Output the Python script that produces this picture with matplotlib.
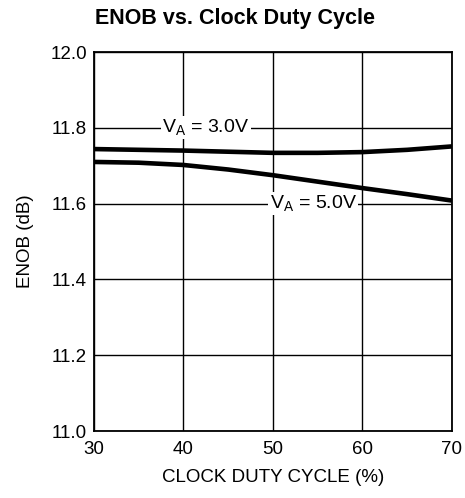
import matplotlib
matplotlib.use("Agg")
import matplotlib.pyplot as plt

plt.rcParams['font.family'] = ['Liberation Sans', 'DejaVu Sans']

# data
duty = [30, 35, 40, 45, 50, 55, 60, 65, 70]
enob_3v = [11.744, 11.742, 11.740, 11.737, 11.734, 11.734, 11.736, 11.742, 11.751]
enob_5v = [11.710, 11.708, 11.702, 11.690, 11.675, 11.658, 11.641, 11.625, 11.608]

xticks = [30, 40, 50, 60, 70]
yticks = [11.0, 11.2, 11.4, 11.6, 11.8, 12.0]

fig = plt.figure(figsize=(4.65, 4.98), dpi=100)
ax = fig.add_axes([0.202, 0.1345, 0.770, 0.761])

ax.plot(duty, enob_3v, color='black', lw=3.3, solid_capstyle='butt')
ax.plot(duty, enob_5v, color='black', lw=3.3, solid_capstyle='butt')

ax.set_xlim(30, 70)
ax.set_ylim(11.0, 12.0)
ax.set_xticks(xticks)
ax.set_yticks(yticks)
ax.set_yticklabels([f"{v:.1f}" for v in yticks])
ax.grid(True, color='black', lw=1.0)
ax.tick_params(length=0, labelsize=13.5, pad=5)
ax.tick_params(axis='x', pad=7)
for s in ax.spines.values():
    s.set_linewidth(1.3)

ax.text(42.5, 11.8, r'V$_\mathregular{A}$ = 3.0V', fontsize=14, ha='center', va='center',
        bbox=dict(facecolor='white', edgecolor='none', pad=1))
ax.text(54.5, 11.6, r'V$_\mathregular{A}$ = 5.0V', fontsize=14, ha='center', va='center',
        bbox=dict(facecolor='white', edgecolor='none', pad=1))

ax.set_xlabel('CLOCK DUTY CYCLE (%)', fontsize=13.5, labelpad=8)
ax.set_ylabel('ENOB (dB)', fontsize=13.5, labelpad=12)
fig.text(0.505, 0.962, 'ENOB vs. Clock Duty Cycle', fontsize=15.5, fontweight='bold',
         ha='center', va='center')

fig.savefig('out.png', dpi=100)
